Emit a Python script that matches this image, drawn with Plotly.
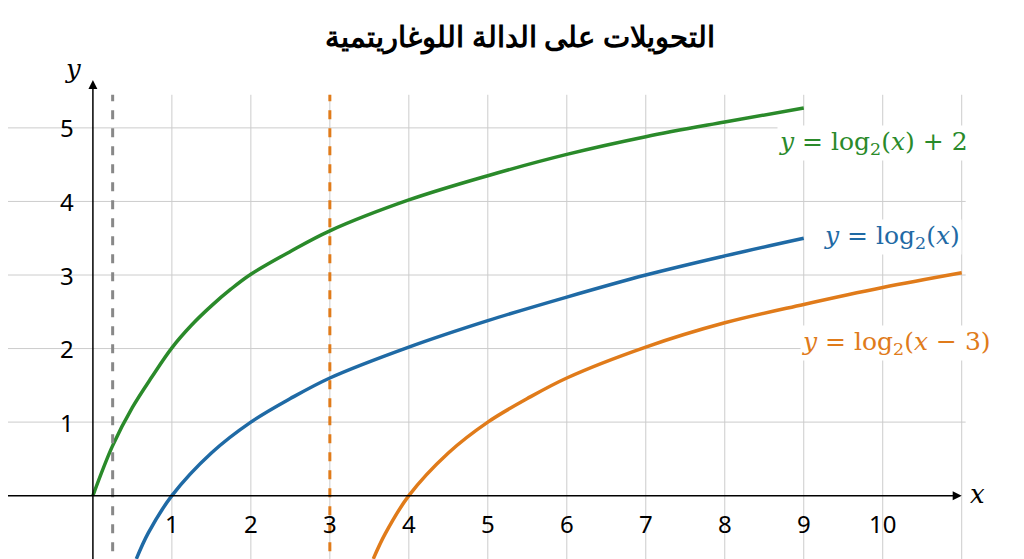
import plotly.graph_objects as go

title = "التحويلات على الدالة اللوغاريتمية"

x_ticks = [1, 2, 3, 4, 5, 6, 7, 8, 9, 10]
y_ticks = [1, 2, 3, 4, 5]

green_x = [0, 0.25, 0.5, 0.75, 1, 1.25, 1.5, 1.75, 2, 2.5, 3, 4, 5, 6, 7, 8, 9]
green_y = [0, 0.68, 1.2, 1.62, 2.01, 2.32, 2.58, 2.81, 3.01, 3.32, 3.6, 4.02, 4.35, 4.64, 4.88, 5.08, 5.27]

blue_x = [0.55, 0.7, 1, 1.5, 2, 2.5, 3, 4, 5, 6, 7, 8, 9]
blue_y = [-0.86, -0.51, 0, 0.58, 1.0, 1.32, 1.6, 2.02, 2.38, 2.7, 3.0, 3.26, 3.5]

orange_x = [3.55, 3.7, 4, 4.5, 5, 5.5, 6, 7, 8, 9, 10, 11]
orange_y = [-0.86, -0.52, 0, 0.58, 1.0, 1.32, 1.6, 2.02, 2.35, 2.6, 2.83, 3.03]

GREEN, BLUE, ORANGE = "#2a8a2a", "#1f6aa5", "#e07b1a"

fig = go.Figure()
for xs, ys, c in [(green_x, green_y, GREEN), (blue_x, blue_y, BLUE), (orange_x, orange_y, ORANGE)]:
    fig.add_trace(go.Scatter(x=xs, y=ys, mode="lines", line=dict(color=c, width=3.5, shape="spline"),
                             showlegend=False, hoverinfo="skip"))

shapes = []
for t in x_ticks + [11]:
    shapes.append(dict(type="line", x0=t, x1=t, y0=-1.0, y1=5.45, line=dict(color="#cccccc", width=1), layer="below"))
for t in y_ticks:
    shapes.append(dict(type="line", x0=-1.2, x1=11.05, y0=t, y1=t, line=dict(color="#cccccc", width=1), layer="below"))
shapes.append(dict(type="line", x0=0.25, x1=0.25, y0=-1.0, y1=5.45, line=dict(color="#888888", width=3, dash="dash")))
shapes.append(dict(type="line", x0=3, x1=3, y0=-1.0, y1=5.45, line=dict(color=ORANGE, width=3, dash="dash")))

ann = []
ann.append(dict(x=11.0, y=0, ax=-1.2, ay=0, xref="x", yref="y", axref="x", ayref="y", text="",
                showarrow=True, arrowhead=2, arrowsize=1.2, arrowwidth=1.5, arrowcolor="black"))
ann.append(dict(x=0, y=5.65, ax=0, ay=-1.0, xref="x", yref="y", axref="x", ayref="y", text="",
                showarrow=True, arrowhead=2, arrowsize=1.2, arrowwidth=1.5, arrowcolor="black"))
for t in x_ticks:
    ann.append(dict(x=t, y=0, text=str(t), showarrow=False, yshift=-28, font=dict(size=24, color="black")))
for t in y_ticks:
    ann.append(dict(x=0, y=t, text=str(t), showarrow=False, xshift=-26, font=dict(size=24, color="black")))
ann.append(dict(x=11.2, y=0, text="<i>x</i>", showarrow=False, yshift=2, font=dict(size=26, color="black", family="DejaVu Serif")))
ann.append(dict(x=-0.25, y=5.8, text="<i>y</i>", showarrow=False, font=dict(size=26, color="black", family="DejaVu Serif")))
lab_font = "DejaVu Serif"
ann.append(dict(x=11.1, y=4.8, xanchor="right", text="<i>y</i> = log<sub>2</sub>(<i>x</i>) + 2", showarrow=False,
                bgcolor="white", font=dict(size=25, color=GREEN, family=lab_font)))
ann.append(dict(x=11.0, y=3.52, xanchor="right", text="<i>y</i> = log<sub>2</sub>(<i>x</i>)", showarrow=False,
                bgcolor="white", font=dict(size=25, color=BLUE, family=lab_font)))
ann.append(dict(x=11.4, y=2.08, xanchor="right", text="<i>y</i> = log<sub>2</sub>(<i>x</i> − 3)", showarrow=False,
                bgcolor="white", font=dict(size=25, color=ORANGE, family=lab_font)))
ann.append(dict(x=0.5, y=0.99, xref="paper", yref="paper", yanchor="top", text="<b>" + title + "</b>",
                showarrow=False, font=dict(size=29, color="black", family="Noto Sans")))

fig.update_layout(
    width=1024, height=559, margin=dict(l=0, r=0, t=0, b=0),
    plot_bgcolor="white", paper_bgcolor="white",
    xaxis=dict(range=[-1.075, 11.89], visible=False, fixedrange=True),
    yaxis=dict(range=[-0.97, 6.63], visible=False, fixedrange=True),
    shapes=shapes, annotations=ann,
    font=dict(family="Noto Sans"),
)
fig.write_html("out.html")
